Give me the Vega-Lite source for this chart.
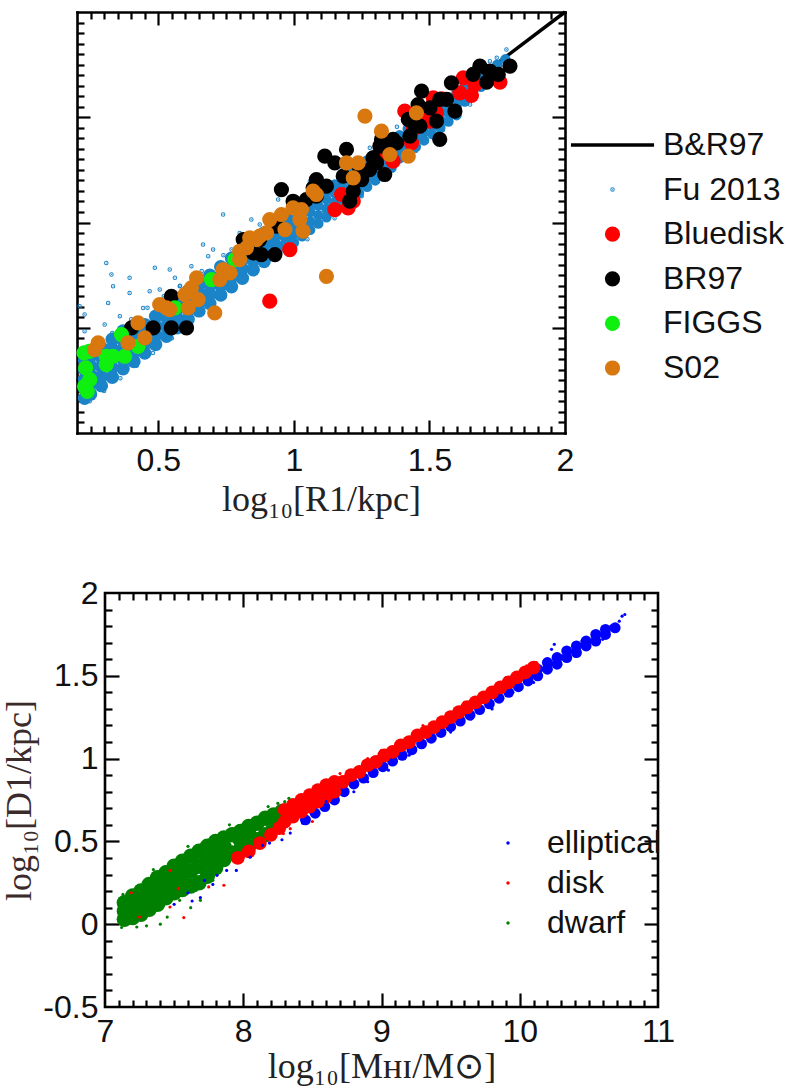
{
  "$schema": "https://vega.github.io/schema/vega-lite/v6.json",
  "padding": {"left": 0, "top": 5, "right": 0, "bottom": 0},
  "config": {
    "view": {"stroke": "black", "strokeWidth": 2.6},
    "axis": {"grid": false, "domain": false, "domainColor": "black", "domainWidth": 2.6, "domainCap": "square", "zindex": 1, "labelFont": "Liberation Sans", "labelFontSize": 32, "labelColor": "#111", "titleFont": "Liberation Serif", "titleFontSize": 36, "titleFontWeight": "normal", "titleColor": "#222", "tickColor": "black", "tickWidth": 2.2, "labelFlush": false, "labelOverlap": false}
  },
  "datasets": {
    "line": [{"x": 0.2, "y": 7.49}, {"x": 2.0, "y": 11.0}],
    "none": [],
    "fuA": [
      {"x":0.228,"y":7.33},{"x":0.228,"y":7.42},{"x":0.228,"y":7.51},{"x":0.228,"y":7.60},{"x":0.228,"y":7.69},
      {"x":0.25,"y":7.37},{"x":0.25,"y":7.46},{"x":0.25,"y":7.55},{"x":0.25,"y":7.64},{"x":0.25,"y":7.73},
      {"x":0.29,"y":7.45},{"x":0.29,"y":7.54},{"x":0.29,"y":7.63},{"x":0.29,"y":7.72},{"x":0.29,"y":7.81},
      {"x":0.33,"y":7.53},{"x":0.33,"y":7.62},{"x":0.33,"y":7.71},{"x":0.33,"y":7.80},{"x":0.33,"y":7.89},
      {"x":0.37,"y":7.61},{"x":0.37,"y":7.70},{"x":0.37,"y":7.79},{"x":0.37,"y":7.88},{"x":0.37,"y":7.97},
      {"x":0.41,"y":7.68},{"x":0.41,"y":7.77},{"x":0.41,"y":7.86},{"x":0.41,"y":7.95},
      {"x":0.45,"y":7.76},{"x":0.45,"y":7.85},{"x":0.45,"y":7.94},{"x":0.45,"y":8.03},
      {"x":0.49,"y":7.84},{"x":0.49,"y":7.93},{"x":0.49,"y":8.02},{"x":0.49,"y":8.11},
      {"x":0.53,"y":7.92},{"x":0.53,"y":8.01},{"x":0.53,"y":8.10},{"x":0.53,"y":8.19},
      {"x":0.57,"y":8.00},{"x":0.57,"y":8.09},{"x":0.57,"y":8.18},{"x":0.57,"y":8.27},
      {"x":0.61,"y":8.08},{"x":0.61,"y":8.17},{"x":0.61,"y":8.26},{"x":0.61,"y":8.35},
      {"x":0.65,"y":8.16},{"x":0.65,"y":8.25},{"x":0.65,"y":8.34},{"x":0.65,"y":8.43},
      {"x":0.69,"y":8.23},{"x":0.69,"y":8.32},{"x":0.69,"y":8.41},{"x":0.69,"y":8.50},
      {"x":0.73,"y":8.31},{"x":0.73,"y":8.40},{"x":0.73,"y":8.49},{"x":0.73,"y":8.58},
      {"x":0.77,"y":8.39},{"x":0.77,"y":8.48},{"x":0.77,"y":8.57},{"x":0.77,"y":8.66},
      {"x":0.81,"y":8.47},{"x":0.81,"y":8.56},{"x":0.81,"y":8.65},{"x":0.81,"y":8.74},
      {"x":0.85,"y":8.55},{"x":0.85,"y":8.64},{"x":0.85,"y":8.73},{"x":0.85,"y":8.82},
      {"x":0.89,"y":8.63},{"x":0.89,"y":8.72},{"x":0.89,"y":8.81},{"x":0.89,"y":8.90},
      {"x":0.93,"y":8.70},{"x":0.93,"y":8.79},{"x":0.93,"y":8.88},{"x":0.93,"y":8.97},
      {"x":0.97,"y":8.78},{"x":0.97,"y":8.87},{"x":0.97,"y":8.96},{"x":0.97,"y":9.05}
    ],
    "fuB": [
      {"x":1.00,"y":8.81},{"x":1.00,"y":8.89},{"x":1.00,"y":8.98},{"x":1.00,"y":9.06},
      {"x":1.03,"y":8.87},{"x":1.03,"y":8.95},{"x":1.03,"y":9.04},{"x":1.03,"y":9.12},
      {"x":1.06,"y":8.93},{"x":1.06,"y":9.01},{"x":1.06,"y":9.10},{"x":1.06,"y":9.18},
      {"x":1.09,"y":8.99},{"x":1.09,"y":9.07},{"x":1.09,"y":9.16},{"x":1.09,"y":9.24},
      {"x":1.12,"y":9.05},{"x":1.12,"y":9.13},{"x":1.12,"y":9.22},{"x":1.12,"y":9.30},
      {"x":1.15,"y":9.11},{"x":1.15,"y":9.19},{"x":1.15,"y":9.28},{"x":1.15,"y":9.36},
      {"x":1.18,"y":9.16},{"x":1.18,"y":9.24},{"x":1.18,"y":9.33},{"x":1.18,"y":9.41},
      {"x":1.21,"y":9.22},{"x":1.21,"y":9.30},{"x":1.21,"y":9.39},{"x":1.21,"y":9.47},
      {"x":1.24,"y":9.28},{"x":1.24,"y":9.36},{"x":1.24,"y":9.45},{"x":1.24,"y":9.53},
      {"x":1.27,"y":9.34},{"x":1.27,"y":9.42},{"x":1.27,"y":9.51},{"x":1.27,"y":9.59},
      {"x":1.30,"y":9.40},{"x":1.30,"y":9.48},{"x":1.30,"y":9.57},{"x":1.30,"y":9.65},
      {"x":1.33,"y":9.46},{"x":1.33,"y":9.54},{"x":1.33,"y":9.63},{"x":1.33,"y":9.71},
      {"x":1.36,"y":9.52},{"x":1.36,"y":9.60},{"x":1.36,"y":9.69},{"x":1.36,"y":9.77},
      {"x":1.39,"y":9.61},{"x":1.39,"y":9.69},{"x":1.39,"y":9.77},{"x":1.39,"y":9.83},
      {"x":1.42,"y":9.66},{"x":1.42,"y":9.74},{"x":1.42,"y":9.82},{"x":1.42,"y":9.89},
      {"x":1.45,"y":9.72},{"x":1.45,"y":9.80},{"x":1.45,"y":9.88},{"x":1.45,"y":9.95},
      {"x":1.48,"y":9.78},{"x":1.48,"y":9.86},{"x":1.48,"y":9.94},{"x":1.48,"y":10.01},
      {"x":1.51,"y":9.84},{"x":1.51,"y":9.92},{"x":1.51,"y":10.00},{"x":1.51,"y":10.07},
      {"x":1.54,"y":9.90},{"x":1.54,"y":9.98},{"x":1.54,"y":10.06},{"x":1.54,"y":10.13},
      {"x":1.57,"y":9.96},{"x":1.57,"y":10.04},{"x":1.57,"y":10.12},{"x":1.57,"y":10.19},
      {"x":1.60,"y":10.02},{"x":1.60,"y":10.10},{"x":1.60,"y":10.18},{"x":1.60,"y":10.24},
      {"x":1.63,"y":10.15},{"x":1.63,"y":10.23},{"x":1.63,"y":10.29},
      {"x":1.66,"y":10.23},{"x":1.66,"y":10.30},{"x":1.69,"y":10.29},{"x":1.69,"y":10.36},
      {"x":1.72,"y":10.35},{"x":1.72,"y":10.42},{"x":1.75,"y":10.43},{"x":1.75,"y":10.50},
      {"x":1.78,"y":10.55}
    ],
    "pts": [
      {"s":"Fu 2013","x":0.308,"y":8.616},{"s":"Fu 2013","x":0.327,"y":8.505},{"s":"Fu 2013","x":0.394,"y":8.474},
      {"s":"Fu 2013","x":0.333,"y":8.394},{"s":"Fu 2013","x":0.487,"y":8.569},{"s":"Fu 2013","x":0.542,"y":8.553},
      {"s":"Fu 2013","x":0.561,"y":8.474},{"s":"Fu 2013","x":0.468,"y":8.347},{"s":"Fu 2013","x":0.394,"y":8.331},
      {"s":"Fu 2013","x":0.315,"y":8.236},{"s":"Fu 2013","x":0.358,"y":8.109},{"s":"Fu 2013","x":0.302,"y":8.030},
      {"s":"Fu 2013","x":0.228,"y":7.967},{"s":"Fu 2013","x":0.210,"y":8.204},{"s":"Fu 2013","x":0.228,"y":8.125},
      {"s":"Fu 2013","x":0.665,"y":8.790},{"s":"Fu 2013","x":0.739,"y":9.076},{"s":"Fu 2013","x":0.702,"y":8.743},
      {"s":"Fu 2013","x":0.770,"y":8.743},{"s":"Fu 2013","x":0.843,"y":9.028},{"s":"Fu 2013","x":0.874,"y":8.981},
      {"s":"Fu 2013","x":0.942,"y":9.218},{"s":"Fu 2013","x":0.948,"y":9.298},{"s":"Fu 2013","x":1.059,"y":9.393},
      {"s":"Fu 2013","x":1.748,"y":10.565},{"s":"Fu 2013","x":1.723,"y":10.533},{"s":"Fu 2013","x":1.784,"y":10.644},
      {"s":"Fu 2013","x":0.579,"y":8.394},{"s":"Fu 2013","x":0.444,"y":8.188},{"s":"Fu 2013","x":0.505,"y":8.363},
      {"s":"Fu 2013","x":0.622,"y":8.585},{"s":"Fu 2013","x":0.684,"y":8.680},{"s":"Fu 2013","x":0.800,"y":8.901},
      {"s":"Fu 2013","x":0.923,"y":8.870},{"s":"Fu 2013","x":0.997,"y":9.060},{"s":"Fu 2013","x":1.071,"y":9.123},
      {"s":"Fu 2013","x":1.145,"y":9.282},{"s":"Fu 2013","x":1.268,"y":9.456},{"s":"Fu 2013","x":1.366,"y":9.678},
      {"s":"Fu 2013","x":1.465,"y":9.836},{"s":"Fu 2013","x":1.551,"y":10.042},{"s":"Fu 2013","x":1.612,"y":10.137},
      {"s":"Fu 2013","x":1.674,"y":10.264},{"s":"Fu 2013","x":0.247,"y":7.301},{"s":"Fu 2013","x":0.222,"y":7.364},
      {"s":"Fu 2013","x":0.259,"y":7.333},
      {"s":"Fu 2013","x":0.30,"y":7.40},{"s":"Fu 2013","x":0.36,"y":7.52},{"s":"Fu 2013","x":0.42,"y":7.64},
      {"s":"Fu 2013","x":0.48,"y":7.76},{"s":"Fu 2013","x":0.55,"y":7.90},{"s":"Fu 2013","x":0.62,"y":8.04},
      {"s":"Fu 2013","x":0.70,"y":8.20},{"s":"Fu 2013","x":0.78,"y":8.37},{"s":"Fu 2013","x":0.86,"y":8.53},
      {"s":"Fu 2013","x":0.95,"y":8.72},{"s":"Fu 2013","x":1.05,"y":8.84},{"s":"Fu 2013","x":1.15,"y":9.04},
      {"s":"Fu 2013","x":1.25,"y":9.25},{"s":"Fu 2013","x":1.35,"y":9.46},{"s":"Fu 2013","x":1.45,"y":9.68},
      {"s":"Fu 2013","x":1.55,"y":9.88},{"s":"Fu 2013","x":1.65,"y":10.12},{"s":"Fu 2013","x":1.72,"y":10.30},
      {"s":"Fu 2013","x":0.27,"y":7.85},{"s":"Fu 2013","x":0.33,"y":7.95},{"s":"Fu 2013","x":0.40,"y":8.08},
      {"s":"Fu 2013","x":0.46,"y":8.19},{"s":"Fu 2013","x":0.52,"y":8.30},{"s":"Fu 2013","x":0.58,"y":8.40},
      {"s":"Fu 2013","x":0.66,"y":8.54},{"s":"Fu 2013","x":0.74,"y":8.69},{"s":"Fu 2013","x":0.82,"y":8.84},
      {"s":"Fu 2013","x":0.90,"y":8.99},{"s":"Fu 2013","x":0.99,"y":9.16},{"s":"Fu 2013","x":1.08,"y":9.33},
      {"s":"Fu 2013","x":1.18,"y":9.52},{"s":"Fu 2013","x":1.28,"y":9.71},{"s":"Fu 2013","x":1.38,"y":9.91},
      {"s":"Fu 2013","x":1.48,"y":10.10},{"s":"Fu 2013","x":1.58,"y":10.29},{"s":"Fu 2013","x":1.68,"y":10.48},
      {"s":"Bluedisk","x":1.625,"y":10.375},{"s":"Bluedisk","x":1.668,"y":10.312},{"s":"Bluedisk","x":1.760,"y":10.334},
      {"s":"Bluedisk","x":1.612,"y":10.232},{"s":"Bluedisk","x":1.655,"y":10.207},{"s":"Bluedisk","x":1.545,"y":10.175},
      {"s":"Bluedisk","x":1.514,"y":10.185},{"s":"Bluedisk","x":1.502,"y":10.074},{"s":"Bluedisk","x":1.409,"y":10.058},
      {"s":"Bluedisk","x":1.489,"y":9.995},{"s":"Bluedisk","x":1.502,"y":9.963},{"s":"Bluedisk","x":1.526,"y":10.042},
      {"s":"Bluedisk","x":1.440,"y":9.884},{"s":"Bluedisk","x":1.434,"y":9.757},{"s":"Bluedisk","x":1.366,"y":9.583},
      {"s":"Bluedisk","x":1.317,"y":9.646},{"s":"Bluedisk","x":1.219,"y":9.202},{"s":"Bluedisk","x":1.176,"y":9.266},
      {"s":"Bluedisk","x":1.151,"y":9.123},{"s":"Bluedisk","x":1.200,"y":9.139},{"s":"Bluedisk","x":0.985,"y":8.743},
      {"s":"Bluedisk","x":0.911,"y":8.252},{"s":"Bluedisk","x":1.336,"y":9.694},
      {"s":"BR97","x":1.686,"y":10.486},{"s":"BR97","x":1.797,"y":10.486},{"s":"BR97","x":1.723,"y":10.438},
      {"s":"BR97","x":1.661,"y":10.407},{"s":"BR97","x":1.754,"y":10.407},{"s":"BR97","x":1.711,"y":10.334},
      {"s":"BR97","x":1.581,"y":10.327},{"s":"BR97","x":1.471,"y":10.248},{"s":"BR97","x":1.538,"y":10.169},
      {"s":"BR97","x":1.563,"y":10.169},{"s":"BR97","x":1.594,"y":10.058},{"s":"BR97","x":1.458,"y":10.121},
      {"s":"BR97","x":1.502,"y":10.090},{"s":"BR97","x":1.526,"y":9.963},{"s":"BR97","x":1.538,"y":9.789},
      {"s":"BR97","x":1.422,"y":9.979},{"s":"BR97","x":1.446,"y":9.915},{"s":"BR97","x":1.465,"y":9.915},
      {"s":"BR97","x":1.428,"y":9.820},{"s":"BR97","x":1.323,"y":9.789},{"s":"BR97","x":1.366,"y":9.789},
      {"s":"BR97","x":1.317,"y":9.725},{"s":"BR97","x":1.342,"y":9.710},{"s":"BR97","x":1.379,"y":9.757},
      {"s":"BR97","x":1.292,"y":9.614},{"s":"BR97","x":1.280,"y":9.503},{"s":"BR97","x":1.335,"y":9.456},
      {"s":"BR97","x":1.305,"y":9.567},{"s":"BR97","x":1.194,"y":9.694},{"s":"BR97","x":1.114,"y":9.630},
      {"s":"BR97","x":1.151,"y":9.567},{"s":"BR97","x":1.243,"y":9.503},{"s":"BR97","x":1.250,"y":9.408},
      {"s":"BR97","x":1.182,"y":9.440},{"s":"BR97","x":1.219,"y":9.298},{"s":"BR97","x":1.206,"y":9.202},
      {"s":"BR97","x":1.083,"y":9.408},{"s":"BR97","x":1.120,"y":9.345},{"s":"BR97","x":1.083,"y":9.250},
      {"s":"BR97","x":1.071,"y":9.329},{"s":"BR97","x":1.046,"y":9.218},{"s":"BR97","x":0.997,"y":9.202},
      {"s":"BR97","x":0.954,"y":9.313},{"s":"BR97","x":0.936,"y":8.965},{"s":"BR97","x":0.874,"y":8.838},
      {"s":"BR97","x":0.850,"y":8.711},{"s":"BR97","x":0.813,"y":8.838},{"s":"BR97","x":0.880,"y":8.695},
      {"s":"BR97","x":0.930,"y":8.695},{"s":"BR97","x":0.548,"y":8.299},{"s":"BR97","x":0.481,"y":7.998},
      {"s":"BR97","x":0.401,"y":7.998},{"s":"BR97","x":0.548,"y":7.998},{"s":"BR97","x":0.604,"y":7.998},
      {"s":"FIGGS","x":0.782,"y":8.648},{"s":"FIGGS","x":0.696,"y":8.458},{"s":"FIGGS","x":0.561,"y":8.188},
      {"s":"FIGGS","x":0.364,"y":7.935},{"s":"FIGGS","x":0.425,"y":7.824},{"s":"FIGGS","x":0.308,"y":7.729},
      {"s":"FIGGS","x":0.333,"y":7.729},{"s":"FIGGS","x":0.376,"y":7.729},{"s":"FIGGS","x":0.245,"y":7.776},
      {"s":"FIGGS","x":0.226,"y":7.761},{"s":"FIGGS","x":0.232,"y":7.618},{"s":"FIGGS","x":0.247,"y":7.507},
      {"s":"FIGGS","x":0.228,"y":7.444},{"s":"FIGGS","x":0.238,"y":7.396},{"s":"FIGGS","x":0.308,"y":7.650},
      {"s":"S02","x":1.262,"y":10.011},{"s":"S02","x":1.323,"y":9.868},{"s":"S02","x":1.452,"y":10.042},
      {"s":"S02","x":1.354,"y":9.646},{"s":"S02","x":1.422,"y":9.630},{"s":"S02","x":1.194,"y":9.567},
      {"s":"S02","x":1.219,"y":9.424},{"s":"S02","x":1.237,"y":9.567},{"s":"S02","x":1.083,"y":9.266},
      {"s":"S02","x":1.071,"y":9.298},{"s":"S02","x":0.997,"y":9.139},{"s":"S02","x":1.028,"y":9.123},
      {"s":"S02","x":1.022,"y":9.028},{"s":"S02","x":1.034,"y":8.917},{"s":"S02","x":0.954,"y":9.076},
      {"s":"S02","x":0.911,"y":9.028},{"s":"S02","x":0.967,"y":8.933},{"s":"S02","x":0.862,"y":8.838},
      {"s":"S02","x":0.837,"y":8.854},{"s":"S02","x":0.874,"y":8.870},{"s":"S02","x":0.825,"y":8.759},
      {"s":"S02","x":0.899,"y":8.901},{"s":"S02","x":0.800,"y":8.727},{"s":"S02","x":0.800,"y":8.648},
      {"s":"S02","x":0.739,"y":8.553},{"s":"S02","x":0.764,"y":8.521},{"s":"S02","x":0.727,"y":8.458},
      {"s":"S02","x":0.641,"y":8.474},{"s":"S02","x":0.622,"y":8.378},{"s":"S02","x":0.598,"y":8.315},
      {"s":"S02","x":0.647,"y":8.268},{"s":"S02","x":0.610,"y":8.188},{"s":"S02","x":0.542,"y":8.173},
      {"s":"S02","x":0.505,"y":8.220},{"s":"S02","x":0.530,"y":8.188},{"s":"S02","x":0.708,"y":8.141},
      {"s":"S02","x":1.120,"y":8.489},{"s":"S02","x":0.425,"y":8.046},{"s":"S02","x":0.450,"y":7.903},
      {"s":"S02","x":0.388,"y":7.856},{"s":"S02","x":0.278,"y":7.856},{"s":"S02","x":0.265,"y":7.792}
    ],
    "gc": [
      {"x":7.14,"y":0.03},{"x":7.14,"y":0.08},{"x":7.14,"y":0.13},
      {"x":7.20,"y":0.04},{"x":7.20,"y":0.11},{"x":7.20,"y":0.17},
      {"x":7.26,"y":0.06},{"x":7.26,"y":0.13},{"x":7.26,"y":0.20},
      {"x":7.32,"y":0.09},{"x":7.32,"y":0.16},{"x":7.32,"y":0.24},
      {"x":7.38,"y":0.12},{"x":7.38,"y":0.20},{"x":7.38,"y":0.28},
      {"x":7.44,"y":0.16},{"x":7.44,"y":0.24},{"x":7.44,"y":0.31},
      {"x":7.50,"y":0.19},{"x":7.50,"y":0.27},{"x":7.50,"y":0.35},
      {"x":7.56,"y":0.21},{"x":7.56,"y":0.30},{"x":7.56,"y":0.38},
      {"x":7.62,"y":0.23},{"x":7.62,"y":0.32},{"x":7.62,"y":0.41},
      {"x":7.68,"y":0.25},{"x":7.68,"y":0.35},{"x":7.68,"y":0.44},
      {"x":7.74,"y":0.29},{"x":7.74,"y":0.38},{"x":7.74,"y":0.47},
      {"x":7.80,"y":0.34},{"x":7.80,"y":0.42},{"x":7.80,"y":0.50},
      {"x":7.86,"y":0.39},{"x":7.86,"y":0.47},{"x":7.86,"y":0.52},
      {"x":7.92,"y":0.43},{"x":7.92,"y":0.54},
      {"x":7.98,"y":0.45},{"x":7.98,"y":0.505},{"x":7.98,"y":0.56},
      {"x":8.04,"y":0.47},{"x":8.04,"y":0.55},{"x":8.04,"y":0.59},
      {"x":8.10,"y":0.51},{"x":8.10,"y":0.61},
      {"x":8.16,"y":0.54},{"x":8.16,"y":0.64},
      {"x":8.22,"y":0.59},{"x":8.22,"y":0.66},
      {"x":8.28,"y":0.64},{"x":8.28,"y":0.68}
    ],
    "rc": [
      {"x":7.96,"y":0.40},{"x":8.04,"y":0.44},{"x":8.12,"y":0.49},{"x":8.20,"y":0.54},{"x":8.26,"y":0.58},
      {"x":8.30,"y":0.62},{"x":8.30,"y":0.69},{"x":8.36,"y":0.65},{"x":8.36,"y":0.72},
      {"x":8.42,"y":0.68},{"x":8.42,"y":0.75},{"x":8.48,"y":0.71},{"x":8.48,"y":0.78},
      {"x":8.54,"y":0.74},{"x":8.54,"y":0.81},{"x":8.60,"y":0.77},{"x":8.60,"y":0.84},
      {"x":8.66,"y":0.80},{"x":8.66,"y":0.86},
      {"x":8.72,"y":0.86},{"x":8.78,"y":0.90},{"x":8.84,"y":0.92},{"x":8.90,"y":0.96},
      {"x":8.96,"y":0.98},{"x":9.02,"y":1.02},{"x":9.08,"y":1.04},{"x":9.14,"y":1.08},
      {"x":9.20,"y":1.10},{"x":9.26,"y":1.14},{"x":9.32,"y":1.16},{"x":9.38,"y":1.19},
      {"x":9.44,"y":1.22},{"x":9.50,"y":1.25},{"x":9.56,"y":1.28},{"x":9.62,"y":1.31},
      {"x":9.68,"y":1.34},{"x":9.74,"y":1.37},{"x":9.80,"y":1.40},{"x":9.86,"y":1.43},
      {"x":9.92,"y":1.46},{"x":9.98,"y":1.49},{"x":10.04,"y":1.52},{"x":10.10,"y":1.55}
    ],
    "bc": [
      {"x":8.45,"y":0.63},{"x":8.52,"y":0.67},{"x":8.59,"y":0.71},{"x":8.66,"y":0.75},
      {"x":8.73,"y":0.80},{"x":8.80,"y":0.847},{"x":8.87,"y":0.882},{"x":8.94,"y":0.916},
      {"x":9.01,"y":0.951},{"x":9.08,"y":0.985},{"x":9.15,"y":1.020},{"x":9.22,"y":1.054},
      {"x":9.29,"y":1.089},{"x":9.36,"y":1.123},{"x":9.43,"y":1.158},{"x":9.50,"y":1.193},
      {"x":9.57,"y":1.227},{"x":9.64,"y":1.262},{"x":9.71,"y":1.296},{"x":9.78,"y":1.331},
      {"x":9.85,"y":1.365},{"x":9.92,"y":1.400},{"x":9.99,"y":1.434},
      {"x":10.06,"y":1.469},{"x":10.06,"y":1.50},{"x":10.13,"y":1.50},{"x":10.13,"y":1.54},
      {"x":10.20,"y":1.54},{"x":10.20,"y":1.58},{"x":10.27,"y":1.57},{"x":10.27,"y":1.61},
      {"x":10.34,"y":1.61},{"x":10.34,"y":1.65},{"x":10.41,"y":1.64},{"x":10.41,"y":1.68},
      {"x":10.48,"y":1.68},{"x":10.48,"y":1.71},{"x":10.55,"y":1.71},{"x":10.55,"y":1.75},
      {"x":10.62,"y":1.75},{"x":10.62,"y":1.78},{"x":10.69,"y":1.79}
    ],
    "pts2": [
      {"s":"elliptical","x":7.60,"y":0.19},{"s":"elliptical","x":7.63,"y":0.14},{"s":"elliptical","x":7.69,"y":0.16},
      {"s":"elliptical","x":7.72,"y":0.265},{"s":"elliptical","x":7.81,"y":0.295},{"s":"elliptical","x":7.88,"y":0.325},
      {"s":"elliptical","x":7.95,"y":0.325},{"s":"elliptical","x":8.05,"y":0.405},{"s":"elliptical","x":8.14,"y":0.476},
      {"s":"elliptical","x":8.19,"y":0.49},{"s":"elliptical","x":8.28,"y":0.51},{"s":"elliptical","x":8.34,"y":0.55},
      {"s":"elliptical","x":8.43,"y":0.61},{"s":"elliptical","x":8.60,"y":0.74},{"s":"elliptical","x":8.68,"y":0.74},
      {"s":"elliptical","x":8.80,"y":0.80},{"s":"elliptical","x":8.90,"y":0.86},{"s":"elliptical","x":9.05,"y":0.93},
      {"s":"elliptical","x":9.20,"y":1.02},{"s":"elliptical","x":9.30,"y":1.07},{"s":"elliptical","x":9.50,"y":1.16},
      {"s":"elliptical","x":9.65,"y":1.24},{"s":"elliptical","x":9.80,"y":1.30},{"s":"elliptical","x":9.95,"y":1.40},
      {"s":"elliptical","x":10.10,"y":1.46},{"s":"elliptical","x":10.23,"y":1.66},{"s":"elliptical","x":10.25,"y":1.69},
      {"s":"elliptical","x":10.30,"y":1.62},{"s":"elliptical","x":10.40,"y":1.62},{"s":"elliptical","x":10.45,"y":1.71},
      {"s":"elliptical","x":10.55,"y":1.76},{"s":"elliptical","x":10.60,"y":1.72},{"s":"elliptical","x":10.66,"y":1.80},
      {"s":"elliptical","x":10.70,"y":1.78},{"s":"elliptical","x":10.72,"y":1.83},{"s":"elliptical","x":10.74,"y":1.86},
      {"s":"elliptical","x":10.76,"y":1.87},{"s":"elliptical","x":7.50,"y":0.12},{"s":"elliptical","x":7.78,"y":0.24},
      {"s":"dwarf","x":7.12,"y":-0.02},{"s":"dwarf","x":7.13,"y":0.18},{"s":"dwarf","x":7.23,"y":-0.017},
      {"s":"dwarf","x":7.40,"y":0.0},{"s":"dwarf","x":7.45,"y":0.043},{"s":"dwarf","x":7.54,"y":0.144},
      {"s":"dwarf","x":7.69,"y":0.144},{"s":"dwarf","x":7.66,"y":0.205},{"s":"dwarf","x":7.78,"y":0.265},
      {"s":"dwarf","x":7.35,"y":0.33},{"s":"dwarf","x":7.60,"y":0.47},{"s":"dwarf","x":7.90,"y":0.60},
      {"s":"dwarf","x":8.18,"y":0.71},{"s":"dwarf","x":8.25,"y":0.73},{"s":"dwarf","x":8.30,"y":0.74},
      {"s":"dwarf","x":8.33,"y":0.76},{"s":"dwarf","x":7.30,"y":-0.01},{"s":"dwarf","x":7.62,"y":0.10},
      {"s":"disk","x":7.19,"y":0.19},{"s":"disk","x":7.25,"y":0.043},{"s":"disk","x":7.47,"y":0.104},
      {"s":"disk","x":7.47,"y":0.325},{"s":"disk","x":7.53,"y":0.215},{"s":"disk","x":7.57,"y":0.04},
      {"s":"disk","x":7.75,"y":0.225},{"s":"disk","x":7.86,"y":0.235},{"s":"disk","x":8.00,"y":0.405},
      {"s":"disk","x":8.02,"y":0.446},{"s":"disk","x":8.29,"y":0.547},{"s":"disk","x":8.34,"y":0.577},
      {"s":"disk","x":8.50,"y":0.62},{"s":"disk","x":8.55,"y":0.82},{"s":"disk","x":8.70,"y":0.91},
      {"s":"disk","x":9.00,"y":1.05},{"s":"disk","x":9.10,"y":1.08},{"s":"disk","x":9.30,"y":1.20},
      {"s":"disk","x":9.60,"y":1.34},{"s":"disk","x":9.90,"y":1.49},{"s":"disk","x":10.05,"y":1.56},
      {"s":"disk","x":10.12,"y":1.58},{"s":"disk","x":8.90,"y":1.00}
    ]
  },
  "concat": [
    {
      "width": 460,
      "height": 421,
      "view": {"stroke": null},
      "layer": [
        {
          "data": {"name": "line"},
          "mark": {"type": "line", "color": "black", "strokeWidth": 3.5},
          "encoding": {
            "x": {"field": "x", "type": "quantitative", "scale": {"domain": [0.2, 2], "range": [-28, 460], "nice": false, "zero": false},
                  "axis": {"orient": "bottom", "values": [0.5, 1, 1.5, 2], "format": "~g", "ticks": false, "domain": true, "labelPadding": 12, "title": "log₁₀[R1/kpc]", "titlePadding": 6}},
            "y": {"field": "y", "type": "quantitative", "scale": {"domain": [7, 11], "nice": false, "zero": false},
                  "axis": {"orient": "left", "offset": 28, "values": [8, 9, 10], "tickSize": -13, "domain": true, "labels": false, "title": null}}
          }
        },
        {
          "data": {"name": "fuA"},
          "mark": {"type": "circle", "color": "#1b84c9", "size": 180, "opacity": 1},
          "encoding": {
            "x": {"field": "x", "type": "quantitative", "scale": {"domain": [0.2, 2], "range": [-28, 460], "nice": false, "zero": false},
                  "axis": {"orient": "bottom", "values": [0.5, 1, 1.5], "tickSize": -13, "labels": false, "title": null}},
            "y": {"field": "y", "type": "quantitative", "scale": {"domain": [7, 11], "nice": false, "zero": false},
                  "axis": {"orient": "left", "offset": 28, "values": [7.1,7.2,7.3,7.4,7.5,7.6,7.7,7.8,7.9,8.1,8.2,8.3,8.4,8.5,8.6,8.7,8.8,8.9,9.1,9.2,9.3,9.4,9.5,9.6,9.7,9.8,9.9,10.1,10.2,10.3,10.4,10.5,10.6,10.7,10.8,10.9], "tickSize": -7, "labels": false, "title": null}}
          }
        },
        {
          "data": {"name": "fuB"},
          "mark": {"type": "circle", "color": "#1b84c9", "size": 110, "opacity": 1},
          "encoding": {
            "x": {"field": "x", "type": "quantitative", "scale": {"domain": [0.2, 2], "range": [-28, 460], "nice": false, "zero": false},
                  "axis": {"orient": "bottom", "values": [0.25,0.3,0.35,0.4,0.45,0.55,0.6,0.65,0.7,0.75,0.8,0.85,0.9,0.95,1.05,1.1,1.15,1.2,1.25,1.3,1.35,1.4,1.45,1.55,1.6,1.65,1.7,1.75,1.8,1.85,1.9,1.95], "tickSize": -7, "labels": false, "title": null}},
            "y": {"field": "y", "type": "quantitative", "scale": {"domain": [7, 11], "nice": false, "zero": false},
                  "axis": {"orient": "right", "values": [8, 9, 10], "tickSize": -13, "domain": true, "labels": false, "title": null}}
          }
        },
        {
          "data": {"name": "pts"},
          "mark": {"type": "point", "filled": true, "opacity": 1, "strokeWidth": 3.5},
          "encoding": {
            "x": {"field": "x", "type": "quantitative", "scale": {"domain": [0.2, 2], "range": [-28, 460], "nice": false, "zero": false},
                  "axis": {"orient": "top", "values": [0.5, 1, 1.5], "tickSize": -13, "domain": true, "labels": false, "title": null}},
            "y": {"field": "y", "type": "quantitative", "scale": {"domain": [7, 11], "nice": false, "zero": false},
                  "axis": {"orient": "right", "values": [7.1,7.2,7.3,7.4,7.5,7.6,7.7,7.8,7.9,8.1,8.2,8.3,8.4,8.5,8.6,8.7,8.8,8.9,9.1,9.2,9.3,9.4,9.5,9.6,9.7,9.8,9.9,10.1,10.2,10.3,10.4,10.5,10.6,10.7,10.8,10.9], "tickSize": -7, "labels": false, "title": null}},
            "fill": {"field": "s", "type": "nominal",
                     "scale": {"domain": ["B&R97", "Fu 2013", "Bluedisk", "BR97", "FIGGS", "S02"], "range": ["#000000", "#1b84c9", "#ff0000", "#000000", "#10f010", "#d8780e"]},
                     "legend": {"title": null, "orient": "none", "legendX": 491.5, "legendY": 117, "padding": 0, "labelFont": "Liberation Sans", "labelFontSize": 32, "labelColor": "#111", "labelOffset": 34.5, "rowPadding": 12.6, "symbolStrokeWidth": 3.5, "symbolOpacity": 1}},
            "stroke": {"field": "s", "type": "nominal",
                     "scale": {"domain": ["B&R97", "Fu 2013", "Bluedisk", "BR97", "FIGGS", "S02"], "range": ["#000000", "#1b84c9", "#ff0000", "#000000", "#10f010", "#d8780e"]},
                     "legend": {"title": null, "orient": "none", "legendX": 491.5, "legendY": 117, "padding": 0, "labelFont": "Liberation Sans", "labelFontSize": 32, "labelColor": "#111", "labelOffset": 34.5, "rowPadding": 12.6, "symbolStrokeWidth": 3.5, "symbolOpacity": 1}},
            "shape": {"field": "s", "type": "nominal",
                     "scale": {"domain": ["B&R97", "Fu 2013", "Bluedisk", "BR97", "FIGGS", "S02"], "range": ["M-7.1,0L7.1,0", "circle", "circle", "circle", "circle", "circle"]},
                     "legend": {"title": null, "orient": "none", "legendX": 491.5, "legendY": 117, "padding": 0, "labelFont": "Liberation Sans", "labelFontSize": 32, "labelColor": "#111", "labelOffset": 34.5, "rowPadding": 12.6, "symbolStrokeWidth": 3.5, "symbolOpacity": 1}},
            "size": {"field": "s", "type": "nominal",
                     "scale": {"type": "ordinal", "domain": ["B&R97", "Fu 2013", "Bluedisk", "BR97", "FIGGS", "S02"], "range": [137, 1, 137, 137, 137, 137]},
                     "legend": {"title": null, "orient": "none", "legendX": 491.5, "legendY": 117, "padding": 0, "labelFont": "Liberation Sans", "labelFontSize": 32, "labelColor": "#111", "labelOffset": 34.5, "rowPadding": 12.6, "symbolStrokeWidth": 3.5, "symbolOpacity": 1}}
          }
        },
        {
          "data": {"name": "none"},
          "mark": {"type": "point"},
          "encoding": {
            "x": {"field": "x", "type": "quantitative", "scale": {"domain": [0.2, 2], "range": [-28, 460], "nice": false, "zero": false},
                  "axis": {"orient": "top", "values": [0.25,0.3,0.35,0.4,0.45,0.55,0.6,0.65,0.7,0.75,0.8,0.85,0.9,0.95,1.05,1.1,1.15,1.2,1.25,1.3,1.35,1.4,1.45,1.55,1.6,1.65,1.7,1.75,1.8,1.85,1.9,1.95], "tickSize": -7, "labels": false, "title": null}},
            "y": {"field": "y", "type": "quantitative", "scale": {"domain": [7, 11], "nice": false, "zero": false}, "axis": null}
          }
        }
      ],
      "resolve": {"axis": {"x": "independent", "y": "independent"}}
    },
    {
      "width": 553,
      "height": 414,
      "layer": [
        {
          "data": {"name": "bc"},
          "mark": {"type": "circle", "color": "#0000ff", "size": 120, "opacity": 1, "clip": true},
          "encoding": {
            "x": {"field": "x", "type": "quantitative", "scale": {"domain": [7, 11], "nice": false, "zero": false},
                  "axis": {"orient": "bottom", "values": [7, 8, 9, 10, 11], "format": "~g", "ticks": false, "labelPadding": 9, "title": "log₁₀[Mʜɪ/M⊙]", "titlePadding": 2}},
            "y": {"field": "y", "type": "quantitative", "scale": {"domain": [-0.5, 2], "nice": false, "zero": false},
                  "axis": {"orient": "left", "values": [-0.5, 0, 0.5, 1, 1.5, 2], "format": "~g", "labelExpr": "replace(datum.label, '−', '-')", "ticks": false, "labelPadding": 7, "title": "log₁₀[D1/kpc]", "titleColor": "#3b2b2b", "titlePadding": 4}}
          }
        },
        {
          "data": {"name": "gc"},
          "mark": {"type": "circle", "color": "#008000", "size": 240, "opacity": 1, "clip": true},
          "encoding": {
            "x": {"field": "x", "type": "quantitative", "scale": {"domain": [7, 11], "nice": false, "zero": false},
                  "axis": {"orient": "bottom", "values": [8, 9, 10], "tickSize": -14, "labels": false, "title": null}},
            "y": {"field": "y", "type": "quantitative", "scale": {"domain": [-0.5, 2], "nice": false, "zero": false},
                  "axis": {"orient": "left", "values": [0, 0.5, 1, 1.5], "tickSize": -14, "labels": false, "title": null}}
          }
        },
        {
          "data": {"name": "rc"},
          "mark": {"type": "circle", "color": "#ff0000", "size": 190, "opacity": 1, "clip": true},
          "encoding": {
            "x": {"field": "x", "type": "quantitative", "scale": {"domain": [7, 11], "nice": false, "zero": false},
                  "axis": {"orient": "bottom", "values": [7.1,7.2,7.3,7.4,7.5,7.6,7.7,7.8,7.9,8.1,8.2,8.3,8.4,8.5,8.6,8.7,8.8,8.9,9.1,9.2,9.3,9.4,9.5,9.6,9.7,9.8,9.9,10.1,10.2,10.3,10.4,10.5,10.6,10.7,10.8,10.9], "tickSize": -7, "labels": false, "title": null}},
            "y": {"field": "y", "type": "quantitative", "scale": {"domain": [-0.5, 2], "nice": false, "zero": false},
                  "axis": {"orient": "left", "values": [-0.4,-0.3,-0.2,-0.1,0.1,0.2,0.3,0.4,0.6,0.7,0.8,0.9,1.1,1.2,1.3,1.4,1.6,1.7,1.8,1.9], "tickSize": -7, "labels": false, "title": null}}
          }
        },
        {
          "data": {"name": "pts2"},
          "mark": {"type": "circle", "size": 10, "opacity": 1, "clip": true},
          "encoding": {
            "x": {"field": "x", "type": "quantitative", "scale": {"domain": [7, 11], "nice": false, "zero": false},
                  "axis": {"orient": "top", "values": [8, 9, 10], "tickSize": -14, "labels": false, "title": null}},
            "y": {"field": "y", "type": "quantitative", "scale": {"domain": [-0.5, 2], "nice": false, "zero": false},
                  "axis": {"orient": "right", "values": [0, 0.5, 1, 1.5], "tickSize": -14, "labels": false, "title": null}},
            "color": {"field": "s", "type": "nominal",
                      "scale": {"domain": ["elliptical", "disk", "dwarf"], "range": ["#0000ff", "#ff0000", "#008000"]},
                      "legend": {"title": null, "orient": "none", "legendX": 387, "legendY": 815, "padding": 0, "labelFont": "Liberation Sans", "labelFontSize": 32, "labelColor": "#111", "labelOffset": 23, "rowPadding": 8, "symbolType": "circle", "symbolSize": 12, "symbolOpacity": 1}}
          }
        },
        {
          "data": {"name": "none"},
          "mark": {"type": "point"},
          "encoding": {
            "x": {"field": "x", "type": "quantitative", "scale": {"domain": [7, 11], "nice": false, "zero": false},
                  "axis": {"orient": "top", "values": [7.1,7.2,7.3,7.4,7.5,7.6,7.7,7.8,7.9,8.1,8.2,8.3,8.4,8.5,8.6,8.7,8.8,8.9,9.1,9.2,9.3,9.4,9.5,9.6,9.7,9.8,9.9,10.1,10.2,10.3,10.4,10.5,10.6,10.7,10.8,10.9], "tickSize": -7, "labels": false, "title": null}},
            "y": {"field": "y", "type": "quantitative", "scale": {"domain": [-0.5, 2], "nice": false, "zero": false},
                  "axis": {"orient": "right", "values": [-0.4,-0.3,-0.2,-0.1,0.1,0.2,0.3,0.4,0.6,0.7,0.8,0.9,1.1,1.2,1.3,1.4,1.6,1.7,1.8,1.9], "tickSize": -7, "labels": false, "title": null}}
          }
        }
      ],
      "resolve": {"axis": {"x": "independent", "y": "independent"}}
    }
  ],
  "columns": 1,
  "spacing": 58
}
